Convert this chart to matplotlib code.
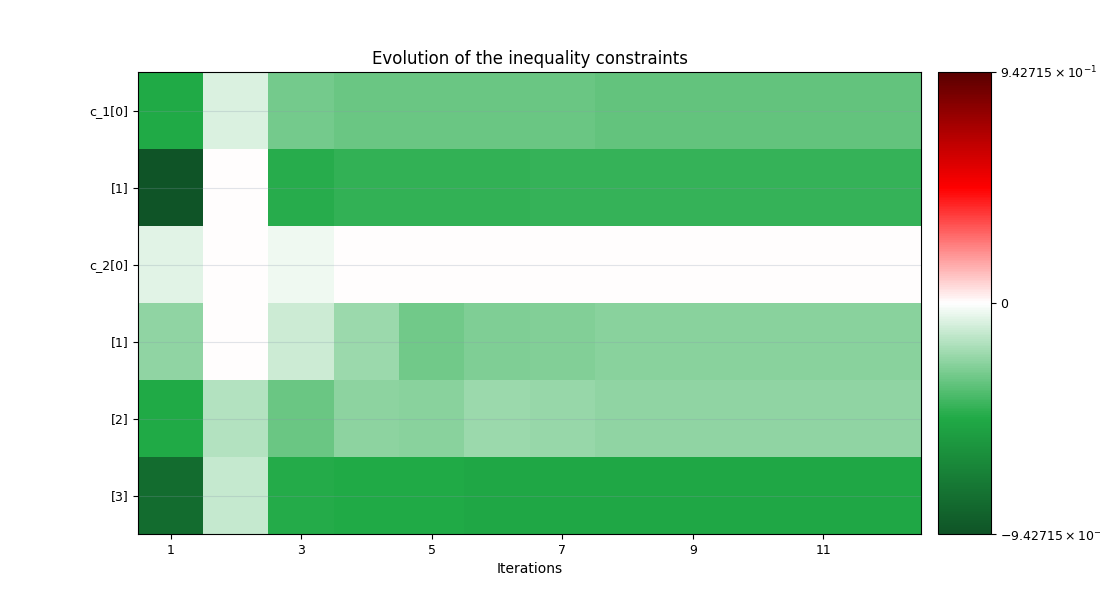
import numpy as np
import matplotlib
matplotlib.use("Agg")
import matplotlib.pyplot as plt
from matplotlib.colors import LinearSegmentedColormap, SymLogNorm
from matplotlib.ticker import FuncFormatter, NullLocator

# Constraint values per iteration
row_labels = ["c_1[0]", "[1]", "c_2[0]", "[1]", "[2]", "[3]"]
iterations = np.arange(1, 13)

c_1_0 = [-0.47, -0.08, -0.29, -0.31, -0.315, -0.315, -0.31, -0.33, -0.33, -0.33, -0.33, -0.33]
c_1_1 = [-0.942715, 0.0, -0.45, -0.43, -0.43, -0.43, -0.425, -0.425, -0.425, -0.425, -0.425, -0.425]
c_2_0 = [-0.06, 0.0, -0.03, 0.002, 0.002, 0.002, 0.002, 0.002, 0.002, 0.002, 0.002, 0.002]
c_2_1 = [-0.23, 0.0, -0.11, -0.21, -0.30, -0.27, -0.26, -0.25, -0.25, -0.25, -0.25, -0.25]
c_2_2 = [-0.47, -0.16, -0.31, -0.24, -0.25, -0.21, -0.22, -0.23, -0.23, -0.23, -0.23, -0.23]
c_2_3 = [-0.81, -0.12, -0.46, -0.465, -0.465, -0.48, -0.48, -0.48, -0.48, -0.48, -0.48, -0.48]


def sci_label(val, pos):
    if val == 0:
        return "0"
    exp = int(np.floor(np.log10(abs(val))))
    coeff = abs(val) / 10 ** exp
    sign = "-" if val < 0 else ""
    return r"$\mathdefault{%s%.5f\times10^{%d}}$" % (sign, coeff, exp)


def main():
    values = np.array([c_1_0, c_1_1, c_2_0, c_2_1, c_2_2, c_2_3])
    vmax = np.abs(values).max()

    cmap = LinearSegmentedColormap.from_list(
        "rg_seismic",
        [(0.0, "#0f5427"), (0.25, "#20aa46"), (0.5, "#ffffff"),
         (0.75, "#ff0000"), (1.0, "#5a0000")])

    fig = plt.figure(figsize=(11, 6), dpi=100)
    ax = fig.add_axes([0.1255, 0.11, 0.712, 0.77])
    cax = fig.add_axes([0.8527, 0.11, 0.048, 0.77])

    im = ax.imshow(values, cmap=cmap, interpolation="nearest", aspect="auto",
                   norm=SymLogNorm(linthresh=1.0, vmin=-vmax, vmax=vmax))

    ax.set_title("Evolution of the inequality constraints", fontsize=12)
    ax.set_xlabel("Iterations", fontsize=10)
    xt = iterations[::2]
    ax.set_xticks(xt - 1)
    ax.set_xticklabels([str(i) for i in xt], fontsize=9)
    ax.set_yticks(np.arange(len(row_labels)))
    ax.set_yticklabels(row_labels, fontsize=9)
    ax.yaxis.grid(True, color="#8899aa", alpha=0.25, linewidth=0.8)
    ax.xaxis.grid(False)

    cbar = fig.colorbar(im, cax=cax, ticks=[-vmax, 0, vmax])
    cbar.ax.yaxis.set_major_formatter(FuncFormatter(sci_label))
    cbar.ax.yaxis.set_minor_locator(NullLocator())
    cbar.ax.tick_params(labelsize=9)

    fig.savefig("out.png")


if __name__ == "__main__":
    main()
